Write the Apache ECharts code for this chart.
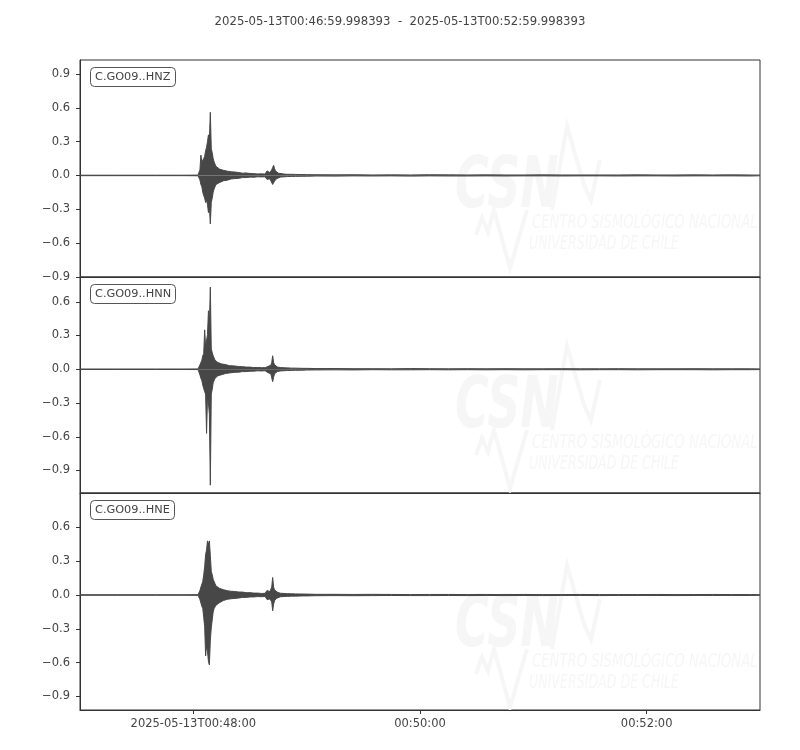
<!DOCTYPE html>
<html><head><meta charset="utf-8">
<script src="https://cdn.jsdelivr.net/npm/echarts@6.0.0/dist/echarts.min.js"></script>
<style>html,body{margin:0;padding:0;background:#fff}#chart{width:800px;height:750px}</style>
</head><body><div id="chart"></div>
<script>
// ---- data ----
const titleText = "2025-05-13T00:46:59.998393  -  2025-05-13T00:52:59.998393";
const channels = ["C.GO09..HNZ", "C.GO09..HNN", "C.GO09..HNE"];
// seconds after 2025-05-13T00:46:59.998393 (envelope bins)
const times = [
  0, 20, 40, 55, 62.5,
  63, 63.5, 64, 64.5, 65, 65.5, 66, 66.5, 67, 67.5, 68, 68.5, 69, 69.5, 70, 70.5, 71, 71.5, 72,
  73, 74, 75, 76, 77, 78, 79, 80,
  82, 84, 86, 88, 90, 92, 94, 96, 98,
  98.5, 99, 99.5, 100, 100.5, 101, 101.5, 102, 102.5, 103, 103.5, 104, 104.5, 105,
  106, 108, 110, 112, 114, 116, 118, 120,
  125, 135, 145, 155, 165, 175, 185, 195, 205, 215, 225, 235, 245, 255, 265, 275, 285, 295, 305, 315, 325, 335, 345, 355, 360
];
const hnzMax = [
  0.002, 0.002, 0.002, 0.002, 0.003,
  0.01, 0.05, 0.18, 0.12, 0.13, 0.15, 0.17, 0.22, 0.25, 0.30, 0.36, 0.32, 0.56, 0.24, 0.20, 0.15, 0.12, 0.10, 0.08,
  0.07, 0.055, 0.06, 0.045, 0.05, 0.038, 0.04, 0.032,
  0.03, 0.026, 0.02, 0.022, 0.017, 0.016, 0.013, 0.014, 0.012,
  0.02, 0.04, 0.035, 0.03, 0.025, 0.03, 0.05, 0.07, 0.09, 0.06, 0.04, 0.03, 0.025, 0.02,
  0.015, 0.012, 0.01, 0.01, 0.009, 0.008, 0.008, 0.007,
  0.006, 0.005, 0.006, 0.004, 0.005, 0.004, 0.006, 0.005, 0.004, 0.005, 0.004, 0.004, 0.005, 0.004, 0.004, 0.004, 0.004, 0.005, 0.004, 0.004, 0.005, 0.004, 0.005, 0.004, 0.003
];
const hnzMin = [
  -0.002, -0.002, -0.002, -0.002, -0.003,
  -0.01, -0.04, -0.08, -0.10, -0.15, -0.18, -0.20, -0.24, -0.22, -0.26, -0.33, -0.28, -0.43, -0.24, -0.20, -0.15, -0.12, -0.10, -0.08,
  -0.065, -0.062, -0.048, -0.047, -0.038, -0.042, -0.032, -0.031,
  -0.028, -0.026, -0.019, -0.019, -0.015, -0.016, -0.012, -0.013, -0.012,
  -0.02, -0.035, -0.04, -0.03, -0.03, -0.025, -0.04, -0.08, -0.09, -0.05, -0.04, -0.03, -0.025, -0.02,
  -0.015, -0.012, -0.01, -0.009, -0.008, -0.008, -0.007, -0.007,
  -0.005, -0.006, -0.004, -0.005, -0.004, -0.006, -0.004, -0.005, -0.005, -0.004, -0.005, -0.004, -0.004, -0.005, -0.004, -0.004, -0.005, -0.004, -0.004, -0.005, -0.004, -0.004, -0.004, -0.005, -0.003
];
const hnnMax = [
  0.002, 0.002, 0.002, 0.002, 0.003,
  0.01, 0.04, 0.06, 0.08, 0.12, 0.14, 0.35, 0.20, 0.19, 0.31, 0.52, 0.40, 0.73, 0.18, 0.15, 0.12, 0.10, 0.08, 0.07,
  0.06, 0.048, 0.047, 0.038, 0.042, 0.033, 0.032, 0.028,
  0.029, 0.024, 0.023, 0.019, 0.019, 0.015, 0.016, 0.014, 0.014,
  0.02, 0.03, 0.025, 0.025, 0.03, 0.035, 0.06, 0.12, 0.06, 0.04, 0.03, 0.025, 0.02, 0.018,
  0.015, 0.013, 0.012, 0.01, 0.01, 0.009, 0.008, 0.008,
  0.006, 0.006, 0.005, 0.005, 0.004, 0.006, 0.005, 0.004, 0.005, 0.004, 0.005, 0.004, 0.004, 0.005, 0.004, 0.004, 0.005, 0.004, 0.004, 0.004, 0.005, 0.004, 0.004, 0.004, 0.003
];
const hnnMin = [
  -0.002, -0.002, -0.002, -0.002, -0.003,
  -0.01, -0.05, -0.08, -0.10, -0.14, -0.15, -0.20, -0.22, -0.57, -0.25, -0.30, -0.40, -1.03, -0.22, -0.18, -0.12, -0.10, -0.08, -0.07,
  -0.058, -0.057, -0.048, -0.046, -0.038, -0.037, -0.033, -0.031,
  -0.027, -0.026, -0.021, -0.021, -0.017, -0.017, -0.014, -0.015, -0.013,
  -0.02, -0.03, -0.03, -0.025, -0.03, -0.04, -0.05, -0.11, -0.07, -0.04, -0.03, -0.025, -0.02, -0.018,
  -0.015, -0.013, -0.011, -0.01, -0.009, -0.009, -0.008, -0.007,
  -0.006, -0.005, -0.006, -0.004, -0.005, -0.005, -0.004, -0.005, -0.004, -0.005, -0.004, -0.005, -0.004, -0.004, -0.005, -0.004, -0.004, -0.005, -0.004, -0.004, -0.004, -0.005, -0.004, -0.004, -0.003
];
const hneMax = [
  0.002, 0.002, 0.002, 0.002, 0.003,
  0.01, 0.04, 0.07, 0.08, 0.12, 0.18, 0.25, 0.36, 0.40, 0.48, 0.45, 0.48, 0.35, 0.21, 0.18, 0.14, 0.12, 0.10, 0.08,
  0.07, 0.058, 0.052, 0.047, 0.046, 0.038, 0.037, 0.033,
  0.031, 0.027, 0.026, 0.021, 0.021, 0.017, 0.017, 0.014, 0.015,
  0.02, 0.04, 0.035, 0.03, 0.03, 0.035, 0.07, 0.155, 0.07, 0.045, 0.035, 0.03, 0.025, 0.02,
  0.016, 0.014, 0.012, 0.011, 0.01, 0.009, 0.009, 0.008,
  0.006, 0.006, 0.005, 0.006, 0.005, 0.004, 0.005, 0.005, 0.004, 0.005, 0.004, 0.005, 0.004, 0.004, 0.005, 0.004, 0.004, 0.004, 0.005, 0.004, 0.004, 0.005, 0.004, 0.004, 0.003
];
const hneMin = [
  -0.002, -0.002, -0.002, -0.002, -0.003,
  -0.01, -0.04, -0.07, -0.10, -0.12, -0.20, -0.28, -0.54, -0.45, -0.50, -0.59, -0.62, -0.40, -0.29, -0.22, -0.15, -0.12, -0.11, -0.09,
  -0.08, -0.066, -0.062, -0.048, -0.047, -0.038, -0.042, -0.033,
  -0.03, -0.027, -0.021, -0.021, -0.017, -0.017, -0.014, -0.015, -0.013,
  -0.02, -0.04, -0.04, -0.03, -0.035, -0.04, -0.06, -0.14, -0.08, -0.05, -0.035, -0.03, -0.025, -0.02,
  -0.016, -0.013, -0.012, -0.01, -0.01, -0.009, -0.008, -0.008,
  -0.006, -0.005, -0.006, -0.005, -0.004, -0.005, -0.005, -0.004, -0.005, -0.004, -0.005, -0.004, -0.005, -0.004, -0.004, -0.005, -0.004, -0.004, -0.004, -0.005, -0.004, -0.004, -0.004, -0.004, -0.003
];
const xTickSeconds = [60.001607, 180.001607, 300.001607];
const xTickLabels = ["2025-05-13T00:48:00", "00:50:00", "00:52:00"];
const yTicksHNZ = [0.9, 0.6, 0.3, 0, -0.3, -0.6, -0.9];
const yTicksHNN = [0.6, 0.3, 0, -0.3, -0.6, -0.9];
const yTicksHNE = [0.6, 0.3, 0, -0.3, -0.6, -0.9];
const yRangeHNZ = [-0.901, 1.024];
const yRangeHNN = [-1.10, 0.82];
const yRangeHNE = [-1.02, 0.905];
const xRange = [0, 360];

// ---- chart ----
const FONT = "'DejaVu Sans', sans-serif";
const INK = '#444';
const WAVE = '#474747';
const panels = [
  { name: channels[0], max: hnzMax, min: hnzMin, ticks: yTicksHNZ, range: yRangeHNZ, top: 60, height: 217 },
  { name: channels[1], max: hnnMax, min: hnnMin, ticks: yTicksHNN, range: yRangeHNN, top: 277, height: 216 },
  { name: channels[2], max: hneMax, min: hneMin, ticks: yTicksHNE, range: yRangeHNE, top: 493, height: 217 }
];
function pairs(arr) { return times.map((t, i) => [t, arr[i]]); }
function fmtY(v) {
  const a = Math.abs(v).toFixed(1);
  return (v < -1e-9 ? '\u2212' : '') + a;
}
const grids = [], xAxes = [], yAxes = [], series = [], titles = [], graphics = [];
titles.push({ text: titleText, left: 'center', top: 16, padding: 0,
  textStyle: { fontFamily: FONT, fontSize: 11.7, fontWeight: 'normal', color: INK } });
const WM = '#f6f6f6';
const WMFONT = "'DejaVu Sans', sans-serif";
panels.forEach((p, i) => {
  const last = i === panels.length - 1;
  grids.push({ left: 80, width: 680, top: p.top, height: p.height, show: true, borderColor: '#333', borderWidth: 1, backgroundColor: 'transparent' });
  xAxes.push({ type: 'value', gridIndex: i, min: xRange[0], max: xRange[1],
    axisLine: { show: true, onZero: false, lineStyle: { color: '#333' } },
    axisTick: { show: last, length: 4, customValues: xTickSeconds, lineStyle: { color: '#333' } },
    axisLabel: { show: last, customValues: xTickSeconds, margin: 8, color: INK, fontFamily: FONT, fontSize: 11.5,
      formatter: v => { let k = 0, b = 1e9; xTickSeconds.forEach((s, j) => { if (Math.abs(s - v) < b) { b = Math.abs(s - v); k = j; } }); return xTickLabels[k]; } },
    splitLine: { show: false } });
  yAxes.push({ type: 'value', gridIndex: i, min: p.range[0], max: p.range[1],
    axisLine: { show: true, onZero: false, lineStyle: { color: '#333' } },
    axisTick: { show: true, length: 4, customValues: p.ticks, lineStyle: { color: '#333' } },
    axisLabel: { customValues: p.ticks, margin: 10, color: INK, fontFamily: FONT, fontSize: 11.5, formatter: fmtY },
    splitLine: { show: false } });
  [p.max, p.min].forEach(arr => {
    series.push({ type: 'line', xAxisIndex: i, yAxisIndex: i, data: pairs(arr), showSymbol: false, symbol: 'none',
      lineStyle: { color: WAVE, width: 1 }, areaStyle: { color: WAVE, opacity: 1, origin: 0 },
      silent: true, animation: false, z: 3, clip: true });
  });
  titles.push({ text: p.name, left: 90, top: p.top + 7, padding: [4, 5, 3, 5], borderColor: '#555', borderWidth: 1, borderRadius: 4,
    backgroundColor: '#fff', textStyle: { fontFamily: FONT, fontSize: 11.3, fontWeight: 'normal', color: INK, lineHeight: 13 } });
  // faint CSN watermark (background decoration)
  const oy = p.top + (i === 0 ? 0 : i === 1 ? 3 : 6);
  graphics.push({ type: 'group', z: 0, silent: true, children: [
    { type: 'text', x: 455, y: oy + 92, scaleX: 0.64, style: { text: 'CSN', fill: WM, font: "italic bold 72px " + WMFONT } },
    { type: 'polyline', shape: { points: [[552, oy + 150], [567, oy + 66], [584, oy + 125], [591, oy + 140], [600, oy + 100]] }, style: { stroke: WM, lineWidth: 4, fill: null } },
    { type: 'polyline', shape: { points: [[476, oy + 175], [482, oy + 158], [488, oy + 172], [494, oy + 150], [510, oy + 208], [527, oy + 150]] }, style: { stroke: WM, lineWidth: 4, fill: null } },
    { type: 'text', x: 532, y: oy + 153, scaleX: 0.66, style: { text: 'CENTRO SISMOLÓGICO NACIONAL', fill: WM, font: "italic 20px " + WMFONT } },
    { type: 'text', x: 529, y: oy + 174, scaleX: 0.63, style: { text: 'UNIVERSIDAD DE CHILE', fill: WM, font: "italic 20px " + WMFONT } }
  ] });
});
const chart = echarts.init(document.getElementById('chart'), null, { renderer: 'canvas' });
chart.setOption({ animation: false, backgroundColor: '#fff', title: titles, grid: grids, xAxis: xAxes, yAxis: yAxes, series: series, graphic: graphics });
</script></body></html>
